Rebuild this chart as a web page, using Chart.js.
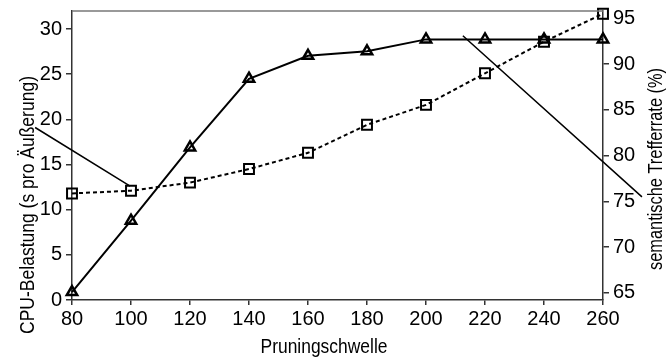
<!DOCTYPE html>
<html>
<head>
<meta charset="utf-8">
<script src="https://cdn.jsdelivr.net/npm/chart.js@4/dist/chart.umd.min.js"></script>
<style>
html,body{margin:0;padding:0;background:#fff;}
#wrap{width:668px;height:361px;position:relative;}
</style>
</head>
<body>
<div id="wrap"><canvas id="c" width="668" height="361"></canvas></div>
<script>
// ---- data ----
const thresholds = [80, 100, 120, 140, 160, 180, 200, 220, 240, 260];
const cpuLoad   = [11.8, 12.1, 13.0, 14.5, 16.3, 19.4, 21.6, 25.1, 28.6, 31.7]; // left axis, squares
const hitRate   = [65.1, 72.9, 80.9, 88.4, 90.9, 91.4, 92.7, 92.7, 92.7, 92.7]; // right axis, triangles
const xTicks    = [80, 100, 120, 140, 160, 180, 200, 220, 240, 260];
const yLeftTicks  = [0, 5, 10, 15, 20, 25, 30];
const yRightTicks = [65, 70, 75, 80, 85, 90, 95];
const xTitle = 'Pruningschwelle';
const yLeftTitle = 'CPU-Belastung (s pro Äußerung)';
const yRightTitle = 'semantische Trefferrate (%)';
// leader lines (data coordinates): label pointer lines
const leaderLeftX = [67.5, 99.7],  leaderLeftY = [19.1, 12.6];   // on left axis
const leaderRightX = [212.5, 273.2], leaderRightY = [93.1, 75.5]; // on right axis

const FONT = "'Liberation Sans', Arial, sans-serif";

function condensedText(ctx, text, x, y, rot, targetWidth) {
  ctx.save();
  ctx.translate(x, y);
  if (rot) ctx.rotate(rot);
  const w = ctx.measureText(text).width;
  ctx.scale(targetWidth / w, 1);
  ctx.fillText(text, 0, 0);
  ctx.restore();
}

const decor = {
  id: 'decor',
  afterDraw(chart) {
    const ctx = chart.ctx, a = chart.chartArea;
    const xs = chart.scales.x, yl = chart.scales.y, yr = chart.scales.y2;
    ctx.save();
    // top frame line
    ctx.strokeStyle = '#777'; ctx.lineWidth = 1.5;
    ctx.beginPath(); ctx.moveTo(a.left, a.top); ctx.lineTo(a.right, a.top); ctx.stroke();
    // leader lines
    ctx.strokeStyle = '#000'; ctx.lineWidth = 1.5;
    ctx.beginPath();
    ctx.moveTo(xs.getPixelForValue(leaderLeftX[0]), yl.getPixelForValue(leaderLeftY[0]));
    ctx.lineTo(xs.getPixelForValue(leaderLeftX[1]), yl.getPixelForValue(leaderLeftY[1]));
    ctx.moveTo(xs.getPixelForValue(leaderRightX[0]), yr.getPixelForValue(leaderRightY[0]));
    ctx.lineTo(xs.getPixelForValue(leaderRightX[1]), yr.getPixelForValue(leaderRightY[1]));
    ctx.stroke();
    // titles
    ctx.fillStyle = '#000';
    ctx.font = '21px ' + FONT;
    ctx.textAlign = 'center'; ctx.textBaseline = 'alphabetic';
    condensedText(ctx, xTitle, 324, 353, 0, 127);
    condensedText(ctx, yLeftTitle, 34, 205, -Math.PI/2, 258);
    ctx.font = '20px ' + FONT;
    condensedText(ctx, yRightTitle, 662, 169, -Math.PI/2, 202);
    ctx.restore();
  }
};

function keepTicks(list) {
  return function(scale) { scale.ticks = list.map(v => ({value: v})); };
}

new Chart(document.getElementById('c'), {
  type: 'line',
  data: {
    labels: thresholds,
    datasets: [
      {
        label: yLeftTitle,
        data: thresholds.map((x, i) => ({x: x, y: cpuLoad[i]})),
        yAxisID: 'y',
        borderColor: '#000', borderWidth: 2, borderDash: [4, 3],
        pointStyle: 'rect', pointRadius: 7, pointBorderWidth: 2,
        pointBackgroundColor: 'rgba(0,0,0,0)', pointBorderColor: '#000',
        tension: 0, clip: false
      },
      {
        label: yRightTitle,
        data: thresholds.map((x, i) => ({x: x, y: hitRate[i]})),
        yAxisID: 'y2',
        borderColor: '#000', borderWidth: 2,
        pointStyle: 'triangle', pointRadius: 6, pointBorderWidth: 2.5,
        pointBackgroundColor: 'rgba(0,0,0,0)', pointBorderColor: '#000',
        tension: 0, clip: false
      }
    ]
  },
  options: {
    responsive: false, animation: false,
    layout: {padding: {top: 11, left: 0, right: 0, bottom: 0}},
    plugins: {legend: {display: false}, tooltip: {enabled: false}},
    scales: {
      x: {
        type: 'linear', min: 80, max: 260,
        afterBuildTicks: keepTicks(xTicks),
        afterFit(s) { s.height = 61; },
        border: {display: true, color: '#333', width: 1.5},
        grid: {drawOnChartArea: false, drawTicks: true, tickLength: 5, color: '#333', lineWidth: 1.5},
        ticks: {color: '#000', font: {family: FONT, size: 20}, padding: 2, maxRotation: 0}
      },
      y: {
        type: 'linear', position: 'left', min: 0, max: 32,
        afterBuildTicks: keepTicks(yLeftTicks),
        afterFit(s) { s.width = 72; s.paddingTop = 0; s.paddingBottom = 0; },
        border: {display: true, color: '#333', width: 1.5},
        grid: {drawOnChartArea: false, drawTicks: true, tickLength: 6, color: '#333', lineWidth: 1.5},
        ticks: {color: '#000', font: {family: FONT, size: 20}, padding: 4}
      },
      y2: {
        type: 'linear', position: 'right', min: 64.23, max: 95.8,
        afterBuildTicks: keepTicks(yRightTicks),
        afterFit(s) { s.width = 65; s.paddingTop = 0; s.paddingBottom = 0; },
        border: {display: true, color: '#333', width: 1.5},
        grid: {drawOnChartArea: false, drawTicks: true, tickLength: 6, color: '#333', lineWidth: 1.5},
        ticks: {color: '#000', font: {family: FONT, size: 20}, padding: 4}
      }
    }
  },
  plugins: [decor]
});
</script>
</body>
</html>
